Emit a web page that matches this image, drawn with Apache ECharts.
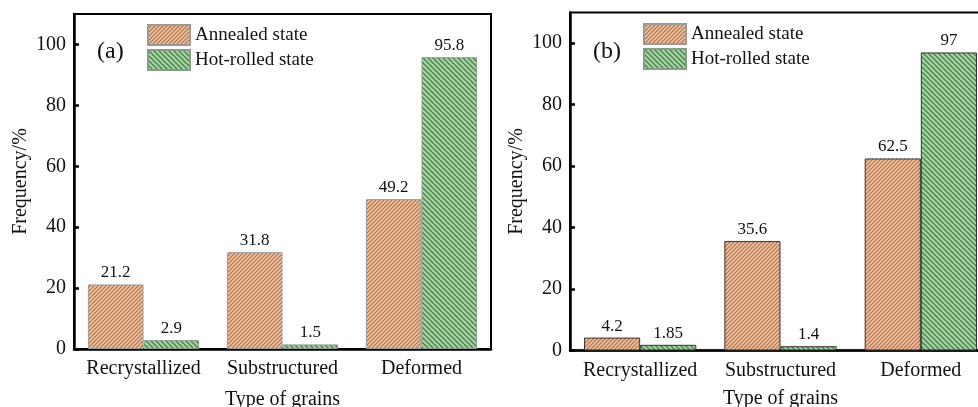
<!DOCTYPE html>
<html>
<head>
<meta charset="utf-8">
<script src="https://cdn.jsdelivr.net/npm/echarts@6/dist/echarts.min.js"></script>
<style>
  html, body { margin: 0; padding: 0; background: #fff; }
  #chart { width: 978px; height: 407px; }
</style>
</head>
<body>
<div id="chart"></div>
<script>
// Grain-type frequency for the two processing states
const categories = ['Recrystallized', 'Substructured', 'Deformed'];
const seriesNames = ['Annealed state', 'Hot-rolled state'];
const annealedA = [21.2, 31.8, 49.2];
const hotRolledA = [2.9, 1.5, 95.8];
const annealedB = [4.2, 35.6, 62.5];
const hotRolledB = [1.85, 1.4, 97];
const panelLabels = ['(a)', '(b)'];
const yTitle = 'Frequency/%';
const xTitle = 'Type of grains';

const FONT = "'Liberation Serif', 'Times New Roman', serif";

// Hatched fills built on small canvas tiles
function hatch(bg, line, size, width, forward) {
  const c = document.createElement('canvas');
  c.width = size; c.height = size;
  const g = c.getContext('2d');
  g.fillStyle = bg;
  g.fillRect(0, 0, size, size);
  g.strokeStyle = line;
  g.lineWidth = width;
  g.beginPath();
  if (forward) {
    g.moveTo(-1, size + 1); g.lineTo(size + 1, -1);
    g.moveTo(-1, 1); g.lineTo(1, -1);
    g.moveTo(size - 1, size + 1); g.lineTo(size + 1, size - 1);
  } else {
    g.moveTo(-1, -1); g.lineTo(size + 1, size + 1);
    g.moveTo(size - 1, -1); g.lineTo(size + 1, 1);
    g.moveTo(-1, size - 1); g.lineTo(1, size + 1);
  }
  g.stroke();
  return { image: c, repeat: 'repeat' };
}
const orangeFill = hatch('#F5C29E', '#A4704C', 4, 1.1, true);
const greenFill = hatch('#A4D8A0', '#4E7A51', 5, 1.3, false);

const grids = [
  { left: 74, top: 14, width: 417, bottom: 58 },
  { left: 570, top: 12.5, width: 421, bottom: 56.5 }
];

function xAxisFor(i, nameGap) {
  return {
    type: 'category', gridIndex: i, data: categories,
    name: xTitle, nameLocation: 'middle', nameGap: nameGap,
    nameTextStyle: { fontFamily: FONT, fontSize: 20, color: '#111' },
    axisLine: { show: true, lineStyle: { color: '#000', width: 2.5 } },
    axisTick: { show: false },
    axisLabel: { fontFamily: FONT, fontSize: 20, color: '#111', margin: 10, interval: 0, hideOverlap: false },
    splitLine: { show: false }
  };
}
function yAxisFor(i) {
  return {
    type: 'value', gridIndex: i, min: 0, max: 110, interval: 20,
    name: yTitle, nameLocation: 'middle', nameGap: 43, nameRotate: 90,
    nameTextStyle: { fontFamily: FONT, fontSize: 20, color: '#111' },
    axisLine: { show: true, lineStyle: { color: '#000', width: 2.5 } },
    axisTick: { show: true, inside: true, length: 5, lineStyle: { color: '#000', width: 2.5 } },
    axisLabel: {
      fontFamily: FONT, fontSize: 20, color: '#111', margin: 8,
      showMaxLabel: false,
      formatter: v => (v % 20 === 0 ? String(v) : '')
    },
    splitLine: { show: false }
  };
}

function barSeries(name, data, gi, fill, border) {
  return {
    name: name, type: 'bar', data: data,
    xAxisIndex: gi, yAxisIndex: gi,
    barGap: '0%', barCategoryGap: '20%',
    itemStyle: { color: fill, borderColor: border, borderWidth: 1 },
    label: {
      show: true, position: 'top', distance: 3,
      fontFamily: FONT, fontSize: 17, color: '#111'
    }
  };
}

function legendFor(left, top) {
  return {
    left: left, top: top, orient: 'vertical', padding: 0,
    itemWidth: 42, itemHeight: 20, itemGap: 3,
    icon: 'rect', selectedMode: false,
    textStyle: { fontFamily: FONT, fontSize: 19, color: '#111' },
    data: seriesNames
  };
}

const option = {
  animation: false,
  backgroundColor: '#fff',
  grid: grids.map(g => Object.assign({
    show: true, borderColor: '#000', borderWidth: 2,
    backgroundColor: 'transparent', containLabel: false, outerBoundsMode: 'none'
  }, g)),
  xAxis: [xAxisFor(0, 41), xAxisFor(1, 38)],
  yAxis: [yAxisFor(0), yAxisFor(1)],
  legend: [legendFor(147, 24), legendFor(643, 23)],
  series: [
    barSeries(seriesNames[0], annealedA, 0, orangeFill, '#9a9a9a'),
    barSeries(seriesNames[1], hotRolledA, 0, greenFill, '#8a9a8a'),
    barSeries(seriesNames[0], annealedB, 1, orangeFill, '#333'),
    barSeries(seriesNames[1], hotRolledB, 1, greenFill, '#333')
  ],
  graphic: [
    { type: 'text', left: 97, top: 40, style: { text: panelLabels[0], font: '24px ' + FONT, fill: '#111' } },
    { type: 'text', left: 593, top: 40, style: { text: panelLabels[1], font: '24px ' + FONT, fill: '#111' } }
  ]
};

const chart = echarts.init(document.getElementById('chart'), null, { renderer: 'canvas' });
chart.setOption(option);
</script>
</body>
</html>
